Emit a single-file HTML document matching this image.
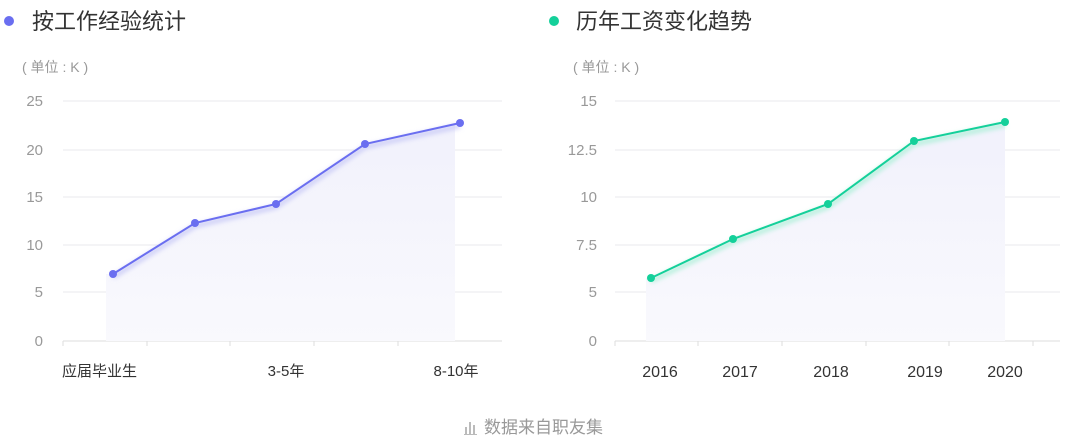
<!DOCTYPE html>
<html><head><meta charset="utf-8"><style>
body{margin:0;background:#fff;width:1070px;height:440px;overflow:hidden;font-family:"Liberation Sans","Noto Sans CJK SC",sans-serif;}
</style></head><body>
<svg width="1070" height="440" viewBox="0 0 1070 440" xmlns="http://www.w3.org/2000/svg" font-family="Liberation Sans, Noto Sans CJK SC, sans-serif">
<defs>
<linearGradient id="fa" x1="0" y1="0" x2="0" y2="1"><stop offset="0" stop-color="#f1f1fc"/><stop offset="1" stop-color="#f9f9fd"/></linearGradient>
<filter id="sh" x="-10%" y="-30%" width="120%" height="160%"><feGaussianBlur stdDeviation="2.5"/></filter>
</defs>
<circle cx="9" cy="21" r="5" fill="#6a6ef0"/>
<text x="32" y="29" font-size="22" fill="#333">按工作经验统计</text>
<circle cx="554" cy="21" r="5" fill="#14d09a"/>
<text x="576" y="29" font-size="22" fill="#333">历年工资变化趋势</text>
<g font-size="14" fill="#999"><text x="22" y="72">( 单位 : K )</text><text x="573" y="72">( 单位 : K )</text></g>
<g stroke="#e8e8ee" stroke-width="1">
<line x1="63" x2="502" y1="101" y2="101"/><line x1="63" x2="502" y1="150" y2="150"/><line x1="63" x2="502" y1="197" y2="197"/><line x1="63" x2="502" y1="245" y2="245"/><line x1="63" x2="502" y1="292" y2="292"/>
<line x1="615" x2="1060" y1="101" y2="101"/><line x1="615" x2="1060" y1="150" y2="150"/><line x1="615" x2="1060" y1="197" y2="197"/><line x1="615" x2="1060" y1="245" y2="245"/><line x1="615" x2="1060" y1="292" y2="292"/>
</g>
<g stroke="#ddd" stroke-width="1">
<line x1="63" x2="502" y1="341" y2="341"/><line x1="615" x2="1060" y1="341" y2="341"/>
<line x1="63" x2="63" y1="341" y2="346"/><line x1="147" x2="147" y1="341" y2="346"/><line x1="230" x2="230" y1="341" y2="346"/><line x1="314" x2="314" y1="341" y2="346"/><line x1="398" x2="398" y1="341" y2="346"/>
<line x1="615" x2="615" y1="341" y2="346"/><line x1="698" x2="698" y1="341" y2="346"/><line x1="782" x2="782" y1="341" y2="346"/><line x1="866" x2="866" y1="341" y2="346"/><line x1="949" x2="949" y1="341" y2="346"/><line x1="1033" x2="1033" y1="341" y2="346"/>
</g>
<g font-size="15" fill="#999" text-anchor="end">
<text x="43" y="106">25</text><text x="43" y="155">20</text><text x="43" y="202">15</text><text x="43" y="250">10</text><text x="43" y="297">5</text><text x="43" y="346">0</text>
<text x="597" y="106">15</text><text x="597" y="155">12.5</text><text x="597" y="202">10</text><text x="597" y="250">7.5</text><text x="597" y="297">5</text><text x="597" y="346">0</text>
</g>
<path d="M106 341 L106 274 L113 274 L195 223 L276 204 L365 144 L455 123 L455 341Z" fill="url(#fa)"/>
<path d="M646 341 L646 278 L651 278 L733 239 L828 204 L914 141 L1005 122 L1005 341Z" fill="url(#fa)"/>
<polyline points="113,277 195,226 276,207 365,147 460,126" fill="none" stroke="#c9caf6" stroke-width="4" filter="url(#sh)"/>
<polyline points="651,281 733,242 828,207 914,144 1005,125" fill="none" stroke="#aef0d8" stroke-width="4" filter="url(#sh)"/>
<polyline points="113,274 195,223 276,204 365,144 460,123" fill="none" stroke="#6a6ef0" stroke-width="2"/>
<polyline points="651,278 733,239 828,204 914,141 1005,122" fill="none" stroke="#14d09a" stroke-width="2"/>
<g fill="#6a6ef0"><circle cx="113" cy="274" r="4"/><circle cx="195" cy="223" r="4"/><circle cx="276" cy="204" r="4"/><circle cx="365" cy="144" r="4"/><circle cx="460" cy="123" r="4"/></g>
<g fill="#14d09a"><circle cx="651" cy="278" r="4"/><circle cx="733" cy="239" r="4"/><circle cx="828" cy="204" r="4"/><circle cx="914" cy="141" r="4"/><circle cx="1005" cy="122" r="4"/></g>
<g font-size="15" fill="#333">
<text x="62" y="376">应届毕业生</text><text x="286" y="376" text-anchor="middle">3-5年</text><text x="456" y="376" text-anchor="middle">8-10年</text>
<text x="660" y="377" text-anchor="middle" font-size="16">2016</text><text x="740" y="377" text-anchor="middle" font-size="16">2017</text><text x="831" y="377" text-anchor="middle" font-size="16">2018</text><text x="925" y="377" text-anchor="middle" font-size="16">2019</text><text x="1005" y="377" text-anchor="middle" font-size="16">2020</text>
</g>
<g fill="#bbb"><rect x="465" y="427" width="2" height="7"/><rect x="469" y="422" width="2" height="12"/><rect x="473" y="425" width="2" height="9"/><rect x="464" y="434" width="13" height="1"/></g>
<text x="484" y="433" font-size="17" fill="#999">数据来自职友集</text>
</svg>
</body></html>
